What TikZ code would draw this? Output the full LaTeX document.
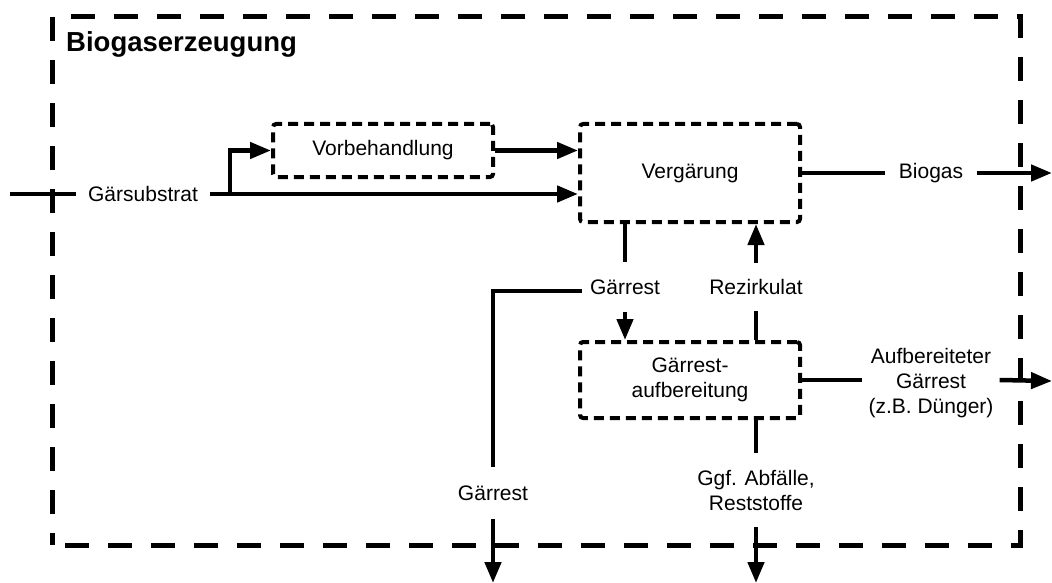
\documentclass[tikz,border=0pt]{standalone}
\usepackage{fontspec}
\setmainfont{Liberation Sans}
\usetikzlibrary{arrows.meta}

\begin{document}
\begin{tikzpicture}[x=1pt,y=-1pt]
	 \tikzstyle{procbox}=[rectangle,draw,line width=4pt,dash pattern=on 10pt off 6pt,rounded corners=3pt,font=\fontsize{21}{25}\selectfont,align=center]
	 \tikzstyle{txt}=[inner xsep=8pt,inner ysep=16pt,font=\fontsize{21}{25}\selectfont,align=center]
	 \tikzstyle{flow}=[draw,line width=4.5pt,-]
	 \tikzstyle{flowarr}=[draw,line width=4.5pt,-{Triangle[length=21pt,width=16pt]}]
	 \useasboundingbox (0,0) rectangle (1052,583);
	 % outer frame
	 \draw[line width=5pt,dash pattern=on 24pt off 19pt,dash phase=12pt] (52,545) -- (52,17) -- (1020,17) -- (1020,545) -- cycle;
	 \node[anchor=west,inner sep=0pt,font=\fontsize{27.5}{30}\selectfont\bfseries] (title) at (66,44) {Biogaserzeugung};
	 % process boxes
	 \node[procbox,minimum width=220pt,minimum height=53pt] (vorb) at (383,150.5) {Vorbehandlung};
	 \node[procbox,minimum width=220pt,minimum height=98pt] (verg) at (690,173) {Vergärung};
	 \node[procbox,minimum width=220pt,minimum height=76pt] (aufb) at (690,380) {Gärrest-\\aufbereitung};
	 % labels
	 \node[txt,inner xsep=12pt] (gsub) at (143,194) {Gärsubstrat};
	 \node[txt,inner xsep=14pt] (biogas) at (931,173) {Biogas};
	 \node[txt,inner ysep=17pt] (grest1) at (625,287) {Gärrest};
	 \node[txt,inner ysep=16pt] (rezi) at (756,287) {Rezirkulat};
	 \node[txt,inner xsep=6pt] (aufgr) at (931,383) {Aufbereiteter\\Gärrest\\(z.B. Dünger)};
	 \node[txt,inner ysep=18pt] (grest2) at (493,493) {Gärrest};
	 \node[txt,inner ysep=17pt] (abf) at (756,490) {Ggf. Abfälle,\\Reststoffe};
	 \coordinate (in) at (10,194);
	 \coordinate (branch) at (230,194);
	 \coordinate (out1) at (1052,173);
	 \coordinate (out2) at (1052,381);
	 \coordinate (out3) at (493,583);
	 \coordinate (out4) at (756,583);
	 % connectors
	 \draw[flow] (in) -- (gsub.west);
	 \draw[flowarr] (gsub.east) -- (verg.west |- gsub.east);
	 \draw[flowarr] (branch) |- (vorb.west);
	 \draw[flowarr] (vorb.east) -- (verg.west |- vorb.east);
	 \draw[flow] (verg.east) -- (biogas.west);
	 \draw[flowarr] (biogas.east) -- (out1);
	 \draw[flow] (verg.south -| grest1) -- (grest1.north);
	 \draw[flowarr] (grest1.south) -- (aufb.north -| grest1);
	 \draw[flow] ([yshift=-4pt]grest1.west) -| (grest2.north);
	 \draw[flowarr] (grest2.south) -- (out3);
	 \draw[flow] (aufb.north -| rezi) -- (rezi.south);
	 \draw[flowarr] (rezi.north) -- (verg.south -| rezi);
	 \draw[flow] (aufb.east) -- (aufgr.west |- aufb.east);
	 \draw[flowarr] (aufgr.east |- aufb.east) -- (out2);
	 \draw[flow] (aufb.south -| abf) -- (abf.north);
	 \draw[flowarr] (abf.south) -- (out4);
\end{tikzpicture}
\end{document}
